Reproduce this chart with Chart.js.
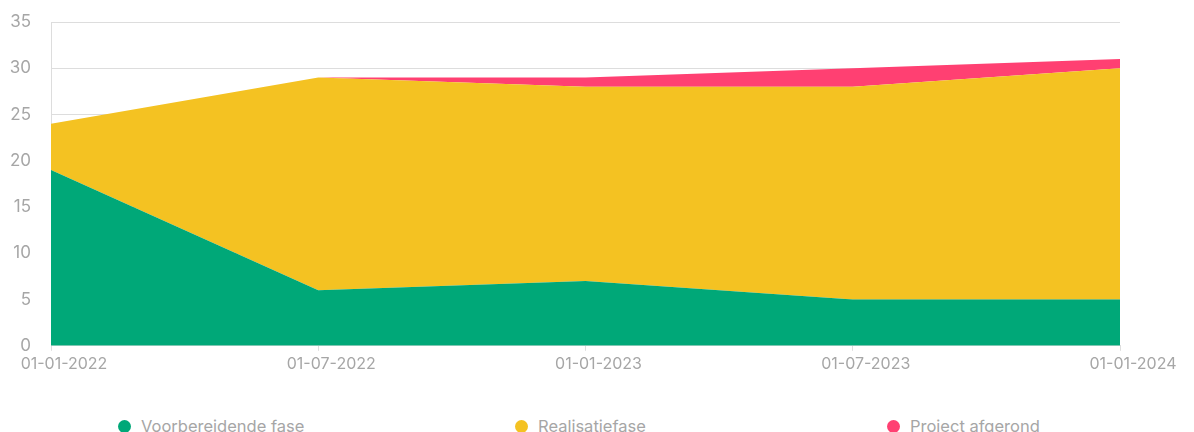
<!DOCTYPE html>
<html>
<head>
<meta charset="utf-8">
<script src="https://cdn.jsdelivr.net/npm/chart.js@4"></script>
<style>
  html, body { margin: 0; padding: 0; background: #fff; overflow: hidden; }
  body { width: 1194px; height: 432px; position: relative; font-family: Inter, "Noto Sans", sans-serif; }
  #wrap { position: absolute; left: 0; top: 0; width: 1194px; height: 378px; }
  #legend { position: absolute; left: 0; top: 416px; width: 1194px; height: 24px; }
  .item { position: absolute; top: 0; display: flex; align-items: center; color: #a6a6a6; font-size: 16.5px; white-space: nowrap; }
  .dot { width: 13px; height: 13px; border-radius: 50%; margin-right: 10px; }
</style>
</head>
<body>
<div id="wrap"><canvas id="chart"></canvas></div>
<div id="legend"></div>
<script>
const dates = ['01-01-2022', '01-07-2022', '01-01-2023', '01-07-2023', '01-01-2024'];
const seriesNames = ['Voorbereidende fase', 'Realisatiefase', 'Project afgerond'];
const voorbereidend = [19, 6, 7, 5, 5];
const realisatie = [5, 23, 21, 23, 25];
const afgerond = [0, 0, 1, 2, 1];
const yTicks = [0, 5, 10, 15, 20, 25, 30, 35];

const colors = ['#00a878', '#f4c222', '#ff4072'];
const legendLeft = [118, 515, 887];

const values = [voorbereidend, realisatie, afgerond];

const datasets = values.map((data, i) => ({
  label: seriesNames[i],
  data,
  backgroundColor: colors[i],
  borderColor: colors[i],
  borderWidth: 0,
  pointRadius: 0,
  tension: 0,
  fill: i === 0 ? 'origin' : '-1',
}));

const xFont = { family: 'Inter, "Noto Sans", sans-serif', size: 16 };
const yFont = { family: 'Inter, "Noto Sans", sans-serif', size: 17 };

new Chart(document.getElementById('chart').getContext('2d'), {
  type: 'line',
  data: { labels: dates, datasets },
  options: {
    responsive: true,
    maintainAspectRatio: false,
    animation: false,
    layout: { padding: { top: 22, right: 74, left: 0, bottom: 0 } },
    plugins: { legend: { display: false }, tooltip: { enabled: false } },
    scales: {
      x: {
        offset: false,
        grid: { drawOnChartArea: false, drawTicks: true, tickLength: 5, color: '#dedede' },
        border: { color: '#dedede' },
        ticks: { color: '#a6a6a6', font: xFont, labelOffset: 13, padding: 4, maxRotation: 0, autoSkip: false },
      },
      y: {
        stacked: true,
        min: 0,
        max: 35,
        afterBuildTicks: (axis) => { axis.ticks = yTicks.map((v) => ({ value: v })); },
        afterFit: (axis) => { axis.width = 51; axis.paddingTop = 0; axis.paddingBottom = 0; },
        grid: { color: '#dddddd', drawTicks: false },
        border: { color: '#dddddd' },
        ticks: { color: '#a6a6a6', font: yFont, padding: 20 },
      },
    },
  },
});

const legend = document.getElementById('legend');
seriesNames.forEach((name, i) => {
  const item = document.createElement('div');
  item.className = 'item';
  item.style.left = legendLeft[i] + 'px';
  item.innerHTML = '<span class="dot" style="background:' + colors[i] + '"></span><span>' + name + '</span>';
  legend.appendChild(item);
});
</script>
</body>
</html>
